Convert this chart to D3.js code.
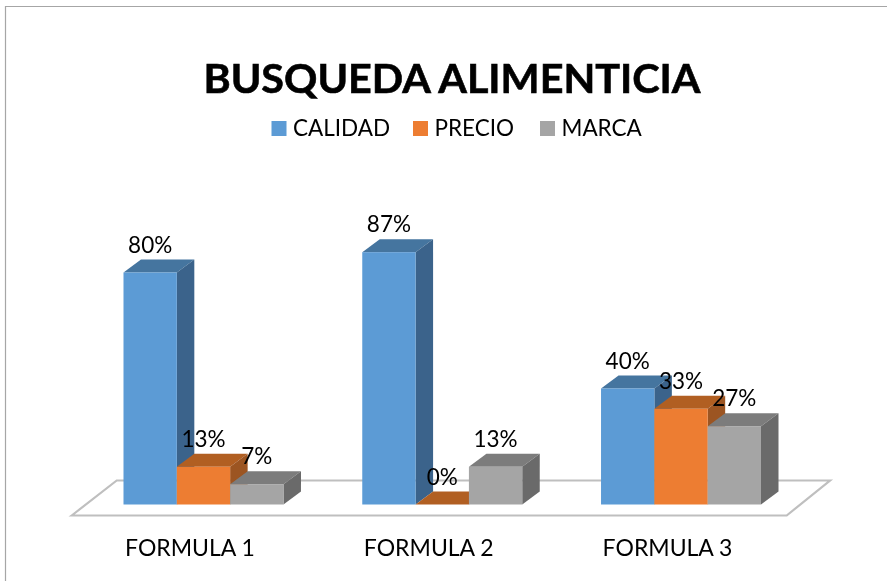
<!DOCTYPE html>
<html>
<head>
<meta charset="utf-8">
<script src="https://cdn.jsdelivr.net/npm/d3@7"></script>
<style>
  html, body { margin: 0; padding: 0; background: #fff; }
  text { font-family: Lato, "Open Sans", sans-serif; fill: #000; }
</style>
</head>
<body>
<script>
const categories = ['FORMULA 1', 'FORMULA 2', 'FORMULA 3'];
const seriesNames = ['CALIDAD', 'PRECIO', 'MARCA'];
const calidad = [80, 87, 40];
const precio = [13, 0, 33];
const marca = [7, 13, 27];
const seriesValues = [calidad, precio, marca];

const frontColors = ['#5b9bd5', '#ed7d31', '#a5a5a5'];
const topColors = ['#44749f', '#b15e24', '#7c7c7c'];
const sideColors = ['#3b648b', '#9c5420', '#6b6b6b'];

const width = 887, height = 581;
const baseY = 504.5;
const depthX = 17.5, depthY = 13;

const root = d3.select('body').append('svg')
  .attr('width', width)
  .attr('height', height)
  .style('display', 'block');

// the reference is a slightly soft screenshot
root.append('defs').append('filter')
  .attr('id', 'soft')
  .append('feGaussianBlur')
  .attr('stdDeviation', 0.4);

const svg = root.append('g').attr('filter', 'url(#soft)');

svg.append('rect')
  .attr('width', width)
  .attr('height', height)
  .attr('fill', '#fff');

// frame, only the top and left edges show in the picture
svg.append('path')
  .attr('d', 'M5.5,' + height + 'V6.5H' + width)
  .attr('fill', 'none')
  .attr('stroke', '#a6a6a6')
  .attr('stroke-width', 1.2);

const x = d3.scaleBand()
  .domain(categories)
  .range([84.1, 800.4])
  .paddingInner(0.33)
  .paddingOuter(0.165);

const xSeries = d3.scaleBand()
  .domain(seriesNames)
  .range([0, x.bandwidth()]);

const y = d3.scaleLinear()
  .domain([0, 100])
  .range([baseY, baseY - 290]);

// floor
svg.append('path')
  .attr('d', 'M71.7,515.5L116.7,480.5H830L786.7,515.5Z')
  .attr('fill', '#fff')
  .attr('stroke', '#bfbfbf')
  .attr('stroke-width', 2.2);

const bars = [];
categories.forEach((c, i) => {
  seriesNames.forEach((s, j) => {
    bars.push({ category: c, series: s, value: seriesValues[j][i], colorIndex: j });
  });
});

const bar = svg.append('g').selectAll('g')
  .data(bars)
  .enter().append('g');

const left = d => x(d.category) + xSeries(d.series);
const right = d => left(d) + xSeries.bandwidth();

// top face
bar.append('path')
  .attr('fill', d => topColors[d.colorIndex])
  .attr('d', d => {
    const t = y(d.value);
    return 'M' + left(d) + ',' + t + 'L' + (left(d) + depthX) + ',' + (t - depthY) +
      'H' + (right(d) + depthX) + 'L' + right(d) + ',' + t + 'Z';
  });

// side face
bar.filter(d => d.value > 0).append('path')
  .attr('fill', d => sideColors[d.colorIndex])
  .attr('d', d => {
    const t = y(d.value);
    return 'M' + right(d) + ',' + t + 'L' + (right(d) + depthX) + ',' + (t - depthY) +
      'V' + (baseY - depthY) + 'L' + right(d) + ',' + baseY + 'Z';
  });

// front face
bar.append('rect')
  .attr('fill', d => frontColors[d.colorIndex])
  .attr('x', left)
  .attr('y', d => y(d.value))
  .attr('width', xSeries.bandwidth())
  .attr('height', d => baseY - y(d.value));

// value labels go on top of every bar
svg.append('g').selectAll('text')
  .data(bars)
  .enter().append('text')
  .attr('x', d => left(d) + xSeries.bandwidth() / 2)
  .attr('y', d => y(d.value) - 20)
  .attr('text-anchor', 'middle')
  .style('font-size', '22.5px')
  .text(d => d.value + '%');

// category labels
svg.append('g').selectAll('text')
  .data(categories)
  .enter().append('text')
  .attr('x', d => x(d) + x.bandwidth() / 2 - 13.5)
  .attr('y', 556)
  .attr('text-anchor', 'middle')
  .style('font-size', '23px')
  .text(d => d);

// title
svg.append('text')
  .attr('x', 452)
  .attr('y', 93)
  .attr('text-anchor', 'middle')
  .attr('textLength', 497)
  .attr('lengthAdjust', 'spacingAndGlyphs')
  .style('font-size', '41px')
  .style('font-weight', 700)
  .style('stroke', '#000')
  .style('stroke-width', 0.6)
  .text('BUSQUEDA ALIMENTICIA');

// legend
const legendX = d3.scaleOrdinal().domain(seriesNames).range([271.5, 413, 540]);
const legend = svg.append('g').selectAll('g')
  .data(seriesNames)
  .enter().append('g')
  .attr('transform', d => 'translate(' + legendX(d) + ',121)');

legend.append('rect')
  .attr('width', 15)
  .attr('height', 15)
  .attr('fill', (d, i) => frontColors[i]);

legend.append('text')
  .attr('x', 21.5)
  .attr('y', 15)
  .style('font-size', '22.5px')
  .text(d => d);
</script>
</body>
</html>
